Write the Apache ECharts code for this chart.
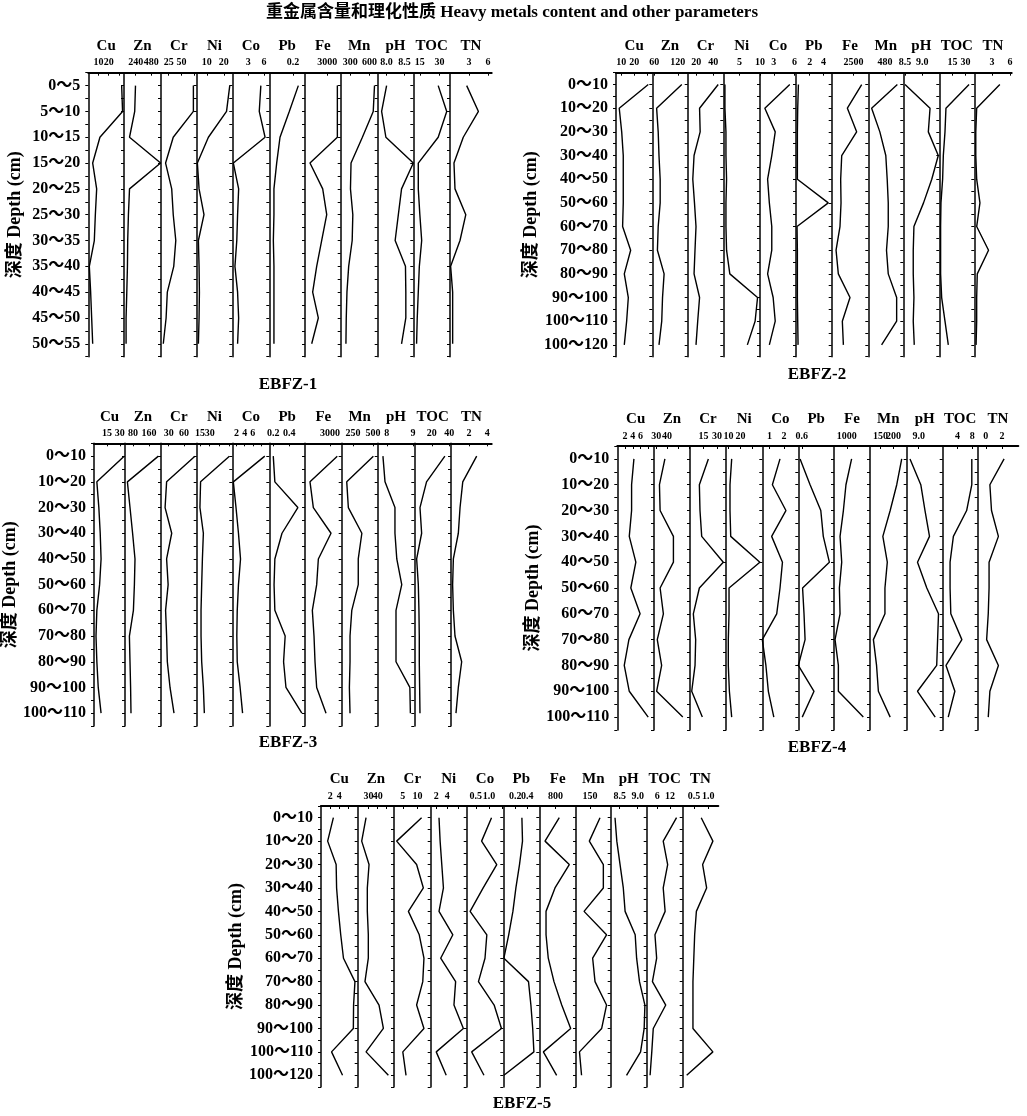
<!DOCTYPE html>
<html><head><meta charset="utf-8">
<script src="https://cdn.jsdelivr.net/npm/echarts@6/dist/echarts.min.js"></script>
<style>html,body{margin:0;padding:0;background:#fff}#c{width:1027px;height:1116px}</style>
</head><body><div id="c"></div><script>
const VARS = ['Cu','Zn','Cr','Ni','Co','Pb','Fe','Mn','pH','TOC','TN'];
const depthsA = ['0～5','5～10','10～15','15～20','20～25','25～30','30～35','35～40','40～45','45～50','50～55'];
const depthsB = ['0～10','10～20','20～30','30～40','40～50','50～60','60～70','70～80','80～90','90～100','100～110','100～120'];
const depthsC = ['0～10','10～20','20～30','30～40','40～50','50～60','60～70','70～80','80～90','90～100','100～110'];

// EBFZ-1
const p1Cu = [32.7, 33.6, 11.4, 4.3, 8.2, 6.9, 5.9, 1.0, 2.3, 3.3, 4.3];
const p1Zn = [237, 225, 145, 624, 145, 128, 117, 113, 103, 92, 92];
const p1Cr = [73.5, 73.5, 34, 19, 31, 34, 39, 35, 22.4, 20, 14.5];
const p1Ni = [23.5, 21.6, 10.9, 4.4, 5.4, 8.3, 5.0, 5.4, 5.6, 5.4, 5.0];
const p1Co = [5.4, 5.1, 6.2, 0.2, 1.2, 1.0, 0.85, 0.5, 1.0, 1.2, 1.0];
const p1Pb = [0.244, 0.168, 0.09, 0.062, 0.039, 0.039, 0.034, 0.039, 0.039, 0.039, 0.039];
const p1Fe = [4350, 4350, 4350, 670, 2380, 2920, 2240, 1570, 1030, 1790, 900];
const p1Mn = [680, 660, 490, 312, 303, 340, 330, 275, 248, 237, 232];
const p1pH = [8.0, 7.86, 7.98, 8.75, 8.42, 8.33, 8.24, 8.53, 8.54, 8.54, 8.42];
const p1TOC = [29, 35.5, 29, 13.8, 13.8, 15, 16.4, 14.6, 13.8, 13, 12.5];
const p1TN = [2.64, 4.5, 2.1, 0.63, 0.79, 2.5, 1.58, 0.1, 0.42, 0.42, 0.42];
const p1Min = [0, 60, 10, 4, 0, 0, 0, 150, 7.75, 10, 0];
const p1Max = [35, 630, 80, 25, 7, 0.3, 4800, 730, 8.75, 38, 6.6];
const p1Ticks = [['10','20'],['240','480'],['25','50'],['10','20'],['3','6'],['0.2'],['3000'],['300','600'],['8.0','8.5'],['15','30'],['3','6']];

// EBFZ-2
const p2Cu = [30.9, 8.5, 10.4, 11.6, 11.6, 11.6, 11.1, 17.3, 12.4, 15.5, 14.2, 12.4];
const p2Zn = [130, 66, 70, 72, 75, 75, 70, 68, 85, 81, 79, 72];
const p2Cr = [46, 24, 24.7, 17.5, 16, 18, 19.8, 18.6, 17.5, 24, 21.8, 19.8];
const p2Ni = [1.4, 1.4, 1.65, 1.65, 1.8, 1.65, 1.65, 1.8, 2.6, 9.4, 8.8, 6.9];
const p2Co = [5.3, 1.7, 3.2, 2.7, 2.1, 2.35, 2.7, 2.7, 2.1, 2.9, 3.2, 2.35];
const p2Pb = [0.35, 0.25, 0.2, 0.2, 0.2, 4.7, 0.15, 0.2, 0.2, 0.2, 0.25, 0.3];
const p2Fe = [3440, 1800, 2860, 1150, 1030, 1070, 950, 500, 760, 2100, 1220, 1340];
const p2Mn = [830, 95, 330, 500, 540, 570, 570, 520, 570, 810, 810, 380];
const p2pH = [8.5, 9.23, 9.18, 9.47, 9.28, 9.04, 8.76, 8.74, 8.74, 8.76, 8.74, 8.77];
const p2TOC = [34, 7.6, 6.5, 4.6, 3.8, 1.9, 1.5, 1.5, 1.5, 2.7, 6.5, 10.3];
const p2TN = [4.3, 0.4, 0.25, 0.25, 0.4, 0.95, 0.4, 2.4, 0.5, 0.4, 0.4, 0.3];
const p2Min = [6, 55, 10, 1, 1, 0, 0, 0, 8.45, 0, 0];
const p2Max = [34, 145, 52, 10, 6.2, 5.2, 4200, 1000, 9.5, 40, 6.3];
const p2Ticks = [['10','20'],['60','120'],['20','40'],['5','10'],['3','6'],['2','4'],['2500'],['480'],['8.5','9.0'],['15','30'],['3','6']];

// EBFZ-3
const p3Cu = [35, 3.3, 5.6, 7.2, 8.2, 6.5, 3.3, 2.3, 3.3, 4.9, 8.2];
const p3Zn = [207, 52, 65, 78, 90, 87, 82, 62, 65, 68, 70];
const p3Cr = [81.5, 26, 23, 36, 26, 29, 24, 26, 27.4, 32.7, 40.5];
const p3Ni = [60.5, 16, 15, 20.3, 18.8, 17.7, 16.7, 16.7, 17.7, 20.3, 21.8];
const p3Co = [8.9, 1.25, 1.9, 2.5, 3.0, 2.5, 2.2, 2.1, 2.2, 2.9, 3.5];
const p3Pb = [0.2, 0.22, 0.51, 0.31, 0.22, 0.21, 0.22, 0.35, 0.33, 0.36, 0.56];
const p3Fe = [3870, 600, 1000, 3120, 1600, 1400, 880, 1080, 1200, 1400, 2520];
const p3Mn = [506, 173, 193, 362, 317, 317, 236, 214, 214, 206, 214];
const p3pH = [7.85, 7.93, 8.31, 8.31, 8.38, 8.57, 8.35, 8.35, 8.35, 8.88, 8.9];
const p3TOC = [35, 14, 6.5, 8.4, 2.7, 4.6, 5.3, 5.7, 5.7, 6.1, 6.5];
const p3TN = [2.84, 1.3, 1.0, 0.81, 0.26, 0.18, 0.26, 0.44, 1.18, 0.81, 0.55];
const p3Min = [0, 40, 15, 10, 1, 0.15, 0, 110, 7.65, 0, 0];
const p3Max = [36, 220, 85, 65, 10, 0.6, 4400, 560, 9.05, 42, 4.5];
const p3Ticks = [['15','30'],['80','160'],['30','60'],['15','30'],['2','4','6'],['0.2','0.4'],['3000'],['250','500'],['8','9'],['20','40'],['2','4']];

// EBFZ-4
const p4Cu = [4.3, 3.7, 3.7, 3.1, 4.8, 3.5, 5.9, 3.0, 1.8, 3.1, 8.0];
const p4Zn = [38, 33, 33.6, 45.8, 45.8, 33.6, 36.6, 31, 35, 30.4, 54.4];
const p4Cr = [20.4, 10.4, 11.1, 13, 37, 10.4, 3.7, 6.3, 5.6, 1.9, 13.7];
const p4Ni = [12.7, 11.3, 11.3, 11.9, 36, 10.5, 10.5, 9.9, 9.9, 10.8, 12.7];
const p4Co = [1.73, 1.2, 2.14, 1.15, 1.9, 1.73, 1.5, 0.5, 0.75, 0.92, 1.3];
const p4Pb = [0.55, 0.83, 1.13, 1.2, 1.37, 0.62, 0.66, 0.69, 0.5, 0.94, 0.61];
const p4Fe = [1370, 930, 730, 470, 600, 420, 470, 80, 340, 340, 2280];
const p4Mn = [231, 212, 187, 159, 176, 167, 167, 123, 135, 142, 187];
const p4pH = [8.71, 9.07, 9.21, 9.36, 8.96, 9.27, 9.66, 9.63, 9.6, 8.96, 9.55];
const p4TOC = [7.9, 7.9, 6.5, 2.9, 2.0, 2.0, 2.2, 5.2, 0.9, 3.3, 1.5];
const p4TN = [2.25, 0.5, 0.7, 1.55, 0.4, 0.4, 0.3, 0.1, 1.55, 0.5, 0.3];
const p4Min = [0, 28, 0, 8, 0.5, 0.5, 0, 110, 8.6, 0, -1];
const p4Max = [9.5, 61, 40, 38, 3, 1.5, 2800, 250, 9.8, 9.5, 4];
const p4Ticks = [['2','4','6'],['30','40'],['15','30'],['10','20'],['1','2'],['0.6'],['1000'],['150','200'],['9.0'],['4','8'],['0','2']];

// EBFZ-5
const p5Cu = [2.7, 1.45, 3.3, 3.4, 3.8, 4.3, 4.9, 7.4, 7.1, 7.05, 2.3, 4.7];
const p5Zn = [27.2, 22.4, 30.5, 28.6, 28.6, 29.7, 29.7, 26, 41.5, 46.3, 27.2, 51.8];
const p5Cr = [11.4, 2.9, 9.7, 12, 6.9, 10.6, 12.2, 11.8, 9.7, 12.2, 5, 6.1];
const p5Ni = [2.5, 2.7, 3.0, 3.3, 2.5, 5.0, 2.8, 5.5, 5.2, 6.9, 2.0, 3.8];
const p5Co = [1.1, 0.72, 1.3, 0.78, 0.28, 0.92, 0.85, 0.6, 1.2, 1.48, 0.34, 0.81];
const p5Pb = [0.31, 0.32, 0.27, 0.21, 0.16, 0.09, 0.01, 0.42, 0.46, 0.49, 0.51, 0.01];
const p5Fe = [980, 280, 1470, 770, 330, 330, 440, 720, 1100, 1540, 200, 850];
const p5Mn = [223, 146, 247, 247, 108, 270, 170, 187, 270, 235, 75, 90];
const p5pH = [8.37, 8.42, 8.51, 8.6, 8.65, 8.93, 8.97, 9.05, 9.2, 9.18, 9.08, 8.69];
const p5TOC = [15.1, 8.8, 10.9, 8.8, 9.7, 4.9, 5.7, 3.7, 10, 4.1, 3.4, 2.6];
const p5TN = [0.75, 1.16, 0.8, 0.94, 0.58, 0.52, 0.49, 0.46, 0.46, 0.46, 1.16, 0.24];
const p5Min = [0, 18, 2, 1, 0.15, 0, 0, 50, 8.25, 1, 0.1];
const p5Max = [8, 58, 14.5, 7.5, 1.55, 0.6, 1800, 300, 9.25, 18, 1.35];
const p5Ticks = [['2','4'],['30','40'],['5','10'],['2','4'],['0.5','1.0'],['0.2','0.4'],['800'],['150'],['8.5','9.0'],['6','12'],['0.5','1.0']];

const MAIN_TITLE = '重金属含量和理化性质 Heavy metals content and other parameters';
const Y_NAME = '深度 Depth (cm)';
const SERIF = '"Liberation Serif","Times New Roman","Noto Sans CJK SC",serif';

const panels = [
  {label:'EBFZ-1', cats:depthsA, series:[p1Cu,p1Zn,p1Cr,p1Ni,p1Co,p1Pb,p1Fe,p1Mn,p1pH,p1TOC,p1TN], min:p1Min, max:p1Max, ticks:p1Ticks,
   lefts:[88.3,124,161,196.7,232.3,269.3,305,340.7,377.7,413.3,450], right:491.7, top:72.7, bottom:356.7, lx:288, ly:385, yGap:64},
  {label:'EBFZ-2', cats:depthsB, series:[p2Cu,p2Zn,p2Cr,p2Ni,p2Co,p2Pb,p2Fe,p2Mn,p2pH,p2TOC,p2TN], min:p2Min, max:p2Max, ticks:p2Ticks,
   lefts:[616,652.3,687.7,723.3,760,796,831.7,868.3,903.3,939.3,974.3], right:1011.7, top:72.7, bottom:356.7, lx:817, ly:375, yGap:69},
  {label:'EBFZ-3', cats:depthsC, series:[p3Cu,p3Zn,p3Cr,p3Ni,p3Co,p3Pb,p3Fe,p3Mn,p3pH,p3TOC,p3TN], min:p3Min, max:p3Max, ticks:p3Ticks,
   lefts:[88.3,125,161,196.7,232.3,269.3,305,341.7,377.7,414.3,451], right:491.7, top:443.3, bottom:726, lx:288, ly:743, yGap:64},
  {label:'EBFZ-4', cats:depthsC, series:[p4Cu,p4Zn,p4Cr,p4Ni,p4Co,p4Pb,p4Fe,p4Mn,p4pH,p4TOC,p4TN], min:p4Min, max:p4Max, ticks:p4Ticks,
   lefts:[617.3,654,690,726,762.3,798.3,834,870,906.7,942.7,977.7], right:1018.3, top:446, bottom:730, lx:817, ly:748, yGap:67},
  {label:'EBFZ-5', cats:depthsB, series:[p5Cu,p5Zn,p5Cr,p5Ni,p5Co,p5Pb,p5Fe,p5Mn,p5pH,p5TOC,p5TN], min:p5Min, max:p5Max, ticks:p5Ticks,
   lefts:[321,357.7,394,430.7,466.7,503.3,539.3,576,610.7,646.7,682.7], right:718.3, top:806, bottom:1087, lx:522, ly:1104, yGap:70}
];

const grid = [], xAxis = [], yAxis = [], series = [], graphic = [];
graphic.push({type:'text', x:512, y:13, style:{text:MAIN_TITLE, font:'bold 17px ' + SERIF, fill:'#000', align:'center', verticalAlign:'middle'}});

panels.forEach(p => {
  const n = p.cats.length;
  graphic.push({type:'text', x:p.lx, y:p.ly, style:{text:p.label, font:'bold 17px ' + SERIF, fill:'#000', align:'center', verticalAlign:'middle'}});
  VARS.forEach((v, i) => {
    const idx = grid.length;
    const left = p.lefts[i];
    const right = i < VARS.length - 1 ? p.lefts[i + 1] : p.right;
    grid.push({left: left, top: p.top, width: right - left, height: p.bottom - p.top});
    const labs = p.ticks[i];
    const labVals = labs.map(Number);
    const tickVals = labVals.slice();
    if (labVals.length > 1) {
      const step = labVals[1] - labVals[0];
      let t = labVals[labVals.length - 1] + step;
      while (t < p.max[i] - 1e-9) { tickVals.push(+t.toFixed(6)); t += step; }
    }
    // blank end values keep the min/max overlap check away from the real labels
    const labelVals = [p.min[i]].concat(labVals.filter(x => x > p.min[i] + 1e-9 && x < p.max[i] - 1e-9), [p.max[i]]);
    xAxis.push({
      gridIndex: idx, type: 'value', position: 'top', min: p.min[i], max: p.max[i],
      name: v, nameLocation: 'middle', nameGap: 19,
      nameTextStyle: {fontFamily: SERIF, fontWeight: 'bold', fontSize: 15, color: '#000'},
      axisLine: {show: true, onZero: false, lineStyle: {color: '#000', width: 2}},
      axisTick: {show: true, inside: true, length: 3, customValues: tickVals, lineStyle: {color: '#000', width: 1}},
      axisLabel: {show: true, customValues: labelVals, hideOverlap: false,
        margin: 5, fontSize: 10, fontWeight: 'bold', fontFamily: SERIF, color: '#000',
        formatter: val => { const s = labs.find(x => Math.abs(Number(x) - val) < 1e-9); return s === undefined ? '' : s; }},
      splitLine: {show: false}
    });
    yAxis.push({
      gridIndex: idx, type: 'value', inverse: true, min: 0, max: n, interval: 0.5,
      axisLine: {show: true, onZero: false, lineStyle: {color: '#000', width: 1.5}},
      axisTick: {show: true, inside: false, length: 3, lineStyle: {color: '#000', width: 1}},
      axisLabel: {show: i === 0, margin: 8, fontSize: 16, fontWeight: 'bold', fontFamily: SERIF, color: '#000',
        formatter: val => { const k = val - 0.5; const r = Math.round(k); return Math.abs(k - r) < 1e-6 && r >= 0 && r < n ? p.cats[r] : ''; }},
      splitLine: {show: false},
      name: i === 0 ? Y_NAME : '', nameLocation: 'middle', nameGap: p.yGap, nameRotate: 90,
      nameTextStyle: {fontFamily: SERIF, fontWeight: 'bold', fontSize: 18, color: '#000'}
    });
    series.push({
      type: 'line', xAxisIndex: idx, yAxisIndex: idx, symbol: 'none', silent: true,
      lineStyle: {color: '#000', width: 1.4},
      data: p.series[i].map((val, j) => [val, j + 0.5])
    });
  });
});

const chart = echarts.init(document.getElementById('c'), null, {renderer: 'canvas'});
chart.setOption({backgroundColor: '#fff', animation: false, grid, xAxis, yAxis, series, graphic});
</script></body></html>
